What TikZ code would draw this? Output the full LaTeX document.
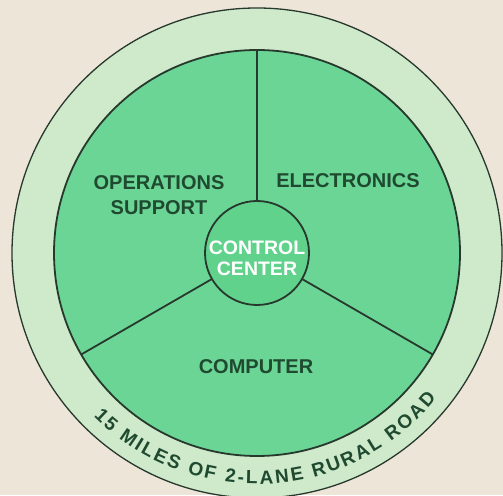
\documentclass[tikz,border=0pt]{standalone}
\usepackage{fontspec}
\setmainfont{Liberation Sans}
\usetikzlibrary{decorations.text}
\definecolor{paper}{HTML}{EDE5D8}
\definecolor{road}{HTML}{CFEACB}
\definecolor{field}{HTML}{6BD596}
\definecolor{hubfill}{HTML}{60D28C}
\definecolor{ink}{HTML}{27382C}
\definecolor{labelink}{HTML}{1F4A30}
\tikzset{
  rim/.style={circle, inner sep=0pt, outer sep=0pt, draw=ink},
  sector/.style={font=\fontsize{20}{25}\selectfont\bfseries, text=labelink, align=center, inner sep=0pt},
  divider/.style={draw=ink, line width=1.8pt},
}
\begin{document}
\begin{tikzpicture}[x=1pt,y=1pt]
  \useasboundingbox (0,0) rectangle (503,495);
  \clip (0,0) rectangle (503,495);
  \fill[paper] (0,0) rectangle (503,495);
  \coordinate (C) at (257,242);

  % outer band: the road
  \node[rim, fill=road, line width=1.3pt, minimum size=490pt] (road) at (C) {};
  % main site disk and control hub
  \node[rim, fill=field, line width=1.8pt, minimum size=406pt] (site) at (C) {};
  \node[rim, fill=hubfill, line width=1.8pt, minimum size=104pt] (hub) at (C) {};

  % three sector dividers
  \draw[divider] (hub.90)  -- (site.90);
  \draw[divider] (hub.210) -- (site.210);
  \draw[divider] (hub.330) -- (site.330);

  % sector labels
  \node[sector] (ops) at (159,300) {OPERATIONS\\SUPPORT};
  \node[sector] (elec) at (348,314) {ELECTRONICS};
  \node[sector] (comp) at (256,128) {COMPUTER};
  \node[sector, text=white, font=\fontsize{19.5}{21}\selectfont\bfseries] (ctrl) at (257,237) {CONTROL\\CENTER};

  % lettering around the road
  \path[decorate, decoration={text along path,
      text={|\fontsize{19}{20}\selectfont\bfseries\color{labelink}|15 MILES OF 2-LANE RURAL ROAD},
      text align=fit to path}]
    (C) ++(225:231) arc[start angle=225, end angle=321, radius=231];
\end{tikzpicture}
\end{document}
